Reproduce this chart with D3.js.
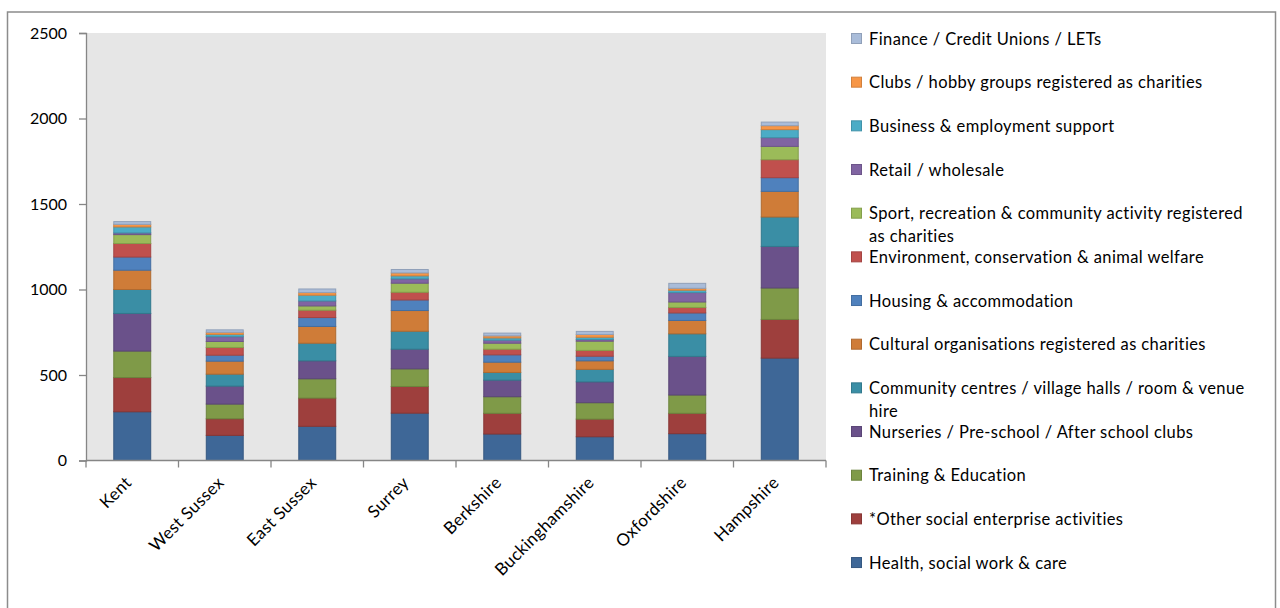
<!DOCTYPE html>
<html>
<head>
<meta charset="utf-8">
<script src="https://cdn.jsdelivr.net/npm/d3@7"></script>
<style>
  html, body { margin: 0; padding: 0; background: #fff; }
  svg { display: block; font-family: Lato, "Open Sans", sans-serif; }
</style>
</head>
<body>
<svg id="chart" width="1280" height="608"></svg>
<script>
// Counties along the x axis
const counties = ["Kent", "West Sussex", "East Sussex", "Surrey", "Berkshire",
                  "Buckinghamshire", "Oxfordshire", "Hampshire"];

// Activity categories, bottom of the stack first ("\n" marks a legend line break)
const activities = [
  "Health, social work & care",
  "*Other social enterprise activities",
  "Training & Education",
  "Nurseries / Pre-school / After school clubs",
  "Community centres / village halls / room & venue\nhire",
  "Cultural organisations  registered as charities",
  "Housing & accommodation",
  "Environment, conservation & animal welfare",
  "Sport, recreation & community activity  registered\nas charities",
  "Retail / wholesale",
  "Business & employment support",
  "Clubs / hobby groups registered as charities",
  "Finance / Credit Unions / LETs"
];

// Number of social enterprises per activity, one value per county
const health      = [285, 147, 200, 277, 155, 139, 157, 599];
const other       = [200,  97, 165, 156, 121, 103, 119, 226];
const training    = [155,  86, 113, 103,  97,  96, 107, 184];
const nurseries   = [220, 105, 105, 115,  97, 122, 226, 243];
const community   = [140,  70, 103, 105,  45,  73, 132, 172];
const cultural    = [113,  76,  98, 121,  60,  50,  78, 150];
const housing     = [ 77,  35,  52,  62,  43,  27,  44,  80];
const environment = [ 79,  45,  43,  45,  33,  34,  32, 105];
const sport       = [ 52,  35,  25,  53,  35,  54,  32,  78];
const retail      = [ 10,  28,  29,  25,  18,  10,  55,  51];
const business    = [ 35,  14,  34,  18,  13,  13,  14,  47];
const clubs       = [ 15,  12,  15,  17,  12,  16,  11,  23];
const finance     = [ 16,  14,  21,  20,  16,  18,  29,  21];

// Y axis tick values
const yTicks = [0, 500, 1000, 1500, 2000, 2500];

// Fill colours, same order as activities
const colours = ["#3e6797", "#9e3f3d", "#7f9a48", "#6a518a", "#3a8ea5", "#cf7c38",
                 "#4f81bd", "#c0504d", "#9bbb59", "#8064a2", "#4bacc6", "#f79646", "#a9bcd9"];

const seriesValues = [health, other, training, nurseries, community, cultural, housing,
                      environment, sport, retail, business, clubs, finance];

// Build a row per county for d3.stack
const rows = counties.map((c, i) => {
  const r = { county: c };
  activities.forEach((a, k) => { r[a] = seriesValues[k][i]; });
  return r;
});

const svg = d3.select("#chart");
const W = 1280, H = 608;

svg.append("rect").attr("width", W).attr("height", H).attr("fill", "#fff");

// Outer chart frame
svg.append("rect")
  .attr("x", 7.5).attr("y", 12).attr("width", 1268).attr("height", 600)
  .attr("fill", "none").attr("stroke", "#8c8c8c").attr("stroke-width", 1.5);

const plot = { left: 86, right: 826, top: 33, bottom: 460.5 };

const x = d3.scaleBand().domain(counties).range([plot.left, plot.right]).paddingInner(0.59).paddingOuter(0.295);
const y = d3.scaleLinear().domain([0, 2500]).range([plot.bottom, plot.top]);

// Plot area background
svg.append("rect")
  .attr("x", plot.left).attr("y", plot.top)
  .attr("width", plot.right - plot.left).attr("height", plot.bottom - plot.top)
  .attr("fill", "#e6e6e6");

const stack = d3.stack().keys(activities);
const layers = stack(rows);

const darker = c => d3.color(c).darker(0.45).formatHex();

svg.append("g").selectAll("g")
  .data(layers)
  .join("g")
  .attr("fill", (d, i) => colours[i])
  .attr("stroke", (d, i) => darker(colours[i]))
  .attr("stroke-width", 1)
  .selectAll("rect")
  .data(d => d)
  .join("rect")
  .attr("x", d => x(d.data.county) + 0.5)
  .attr("y", d => y(d[1]))
  .attr("width", x.bandwidth() - 1)
  .attr("height", d => Math.max(0, y(d[0]) - y(d[1])));

// Y axis
const yAxis = svg.append("g")
  .attr("transform", `translate(${plot.left},0)`)
  .call(d3.axisLeft(y).tickValues(yTicks).tickSize(7).tickPadding(12).tickFormat(d3.format("d")));
yAxis.select(".domain").attr("stroke", "#868686").attr("stroke-width", 1.3);
yAxis.selectAll(".tick line").attr("stroke", "#868686").attr("stroke-width", 1.3);
yAxis.selectAll(".tick text").attr("font-size", 16).attr("fill", "#000")
  .attr("font-family", "Lato, sans-serif");

// X axis: ticks sit on the band boundaries
const xAxisG = svg.append("g").attr("transform", `translate(0,${plot.bottom})`);
xAxisG.append("line")
  .attr("x1", plot.left).attr("x2", plot.right)
  .attr("stroke", "#868686").attr("stroke-width", 1.3);
const boundaries = d3.range(counties.length + 1).map(i => plot.left + i * (plot.right - plot.left) / counties.length);
xAxisG.selectAll("line.tk")
  .data(boundaries)
  .join("line").attr("class", "tk")
  .attr("x1", d => d).attr("x2", d => d)
  .attr("y1", 0).attr("y2", 7)
  .attr("stroke", "#868686").attr("stroke-width", 1.3);

xAxisG.selectAll("text")
  .data(counties)
  .join("text")
  .attr("transform", d => `translate(${x(d) + x.bandwidth() / 2 - 4},${19}) rotate(-45)`)
  .attr("text-anchor", "end")
  .attr("dy", "0.35em")
  .attr("font-size", 17)
  .attr("letter-spacing", 0.3)
  .attr("fill", "#000")
  .text(d => d);

// Legend, top item = last stacked series
const legend = svg.append("g");
const legendOrder = activities.map((a, i) => i).reverse();
const rowY0 = 39, rowStep = 43.67;
legendOrder.forEach((k, j) => {
  const cy = rowY0 + j * rowStep;
  const g = legend.append("g");
  g.append("rect")
    .attr("x", 851.5).attr("y", cy - 5.5).attr("width", 10).attr("height", 10)
    .attr("fill", colours[k]).attr("stroke", darker(colours[k])).attr("stroke-width", 1);
  const t = g.append("text")
    .attr("x", 869).attr("y", cy)
    .attr("font-size", 16.5).attr("letter-spacing", 0.4).attr("fill", "#000");
  activities[k].split("\n").forEach((line, li) => {
    t.append("tspan").attr("x", 869).attr("y", cy + li * 23).attr("dy", "0.35em").text(line);
  });
});
</script>
</body>
</html>
